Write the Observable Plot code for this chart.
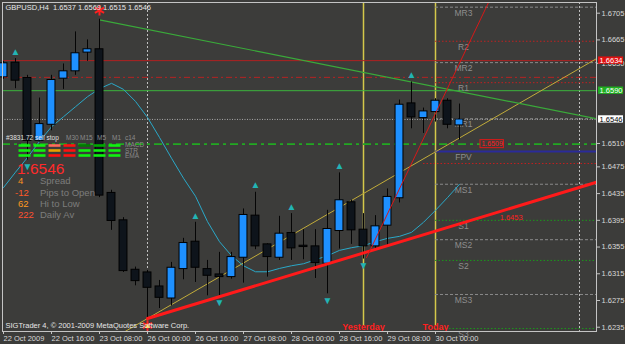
<!DOCTYPE html>
<html><head><meta charset="utf-8">
<script src="https://cdn.jsdelivr.net/npm/d3@7"></script>
<script src="https://cdn.jsdelivr.net/npm/@observablehq/plot@0.6"></script>
<style>
html,body{margin:0;padding:0;background:#3c3c3a;}
#wrap{position:relative;width:625px;height:344px;overflow:hidden;font-family:"Liberation Sans",Arial,sans-serif;}
.ov{position:absolute;white-space:nowrap;line-height:1;}
</style></head><body><div id="wrap"></div>
<script>
// ---- data ----
const timeLabels = ["22 Oct 2009","22 Oct 16:00","23 Oct 08:00","26 Oct 00:00","26 Oct 16:00","27 Oct 08:00","28 Oct 00:00","28 Oct 16:00","29 Oct 08:00","30 Oct 00:00"];
const timeTickIdx = [0,4,8,12,16,20,24,28,32,36];
const opens  = [1.6609,1.6631,1.6608,1.6514,1.6538,1.6607,1.6618,1.6646,1.6651,1.6436,1.6395,1.6321,1.6317,1.6296,1.6278,1.6322,1.6363,1.6322,1.6314,1.6310,1.6339,1.6402,1.6359,1.6339,1.6376,1.6357,1.6356,1.6330,1.6379,1.6422,1.6381,1.6356,1.6387,1.6428,1.6570,1.6548,1.6557,1.6574,1.6537];
const highs  = [1.6633,1.6637,1.6612,1.6578,1.6612,1.6629,1.6677,1.6665,1.6696,1.6440,1.6399,1.6325,1.6320,1.6305,1.6332,1.6368,1.6392,1.6335,1.6347,1.6347,1.6412,1.6437,1.6360,1.6401,1.6405,1.6381,1.6381,1.6410,1.6466,1.6425,1.6405,1.6402,1.6442,1.6575,1.6602,1.6563,1.6577,1.6577,1.6569];
const lows   = [1.6606,1.6592,1.6485,1.6512,1.6529,1.6591,1.6612,1.6633,1.6429,1.6380,1.6317,1.6297,1.6248,1.6263,1.6267,1.6306,1.6302,1.6282,1.6282,1.6307,1.6301,1.6351,1.6310,1.6335,1.6335,1.6336,1.6308,1.6285,1.6352,1.6359,1.6337,1.6350,1.6357,1.6421,1.6532,1.6525,1.6542,1.6532,1.6515];
const closes = [1.6630,1.6604,1.6514,1.6539,1.6605,1.6618,1.6645,1.6651,1.6432,1.6394,1.6319,1.6304,1.6294,1.6279,1.6324,1.6361,1.6324,1.6312,1.6310,1.6340,1.6403,1.6356,1.6340,1.6375,1.6353,1.6355,1.6331,1.6382,1.6425,1.6380,1.6356,1.6386,1.6430,1.6568,1.6549,1.6558,1.6574,1.6538,1.6546];
const maValues = [1.6444,1.6467,1.6489,1.6513,1.6535,1.6550,1.6565,1.6580,1.6592,1.6600,1.6591,1.6573,1.6549,1.6519,1.6488,1.6458,1.6431,1.6393,1.6363,1.6342,1.6327,1.6318,1.6318,1.6323,1.6327,1.6330,1.6336,1.6342,1.6350,1.6354,1.6357,1.6363,1.6368,1.6371,1.6377,1.6392,1.6410,1.6429,1.6449];
const fractalUp = [1,16,21,24,28,34];
const fractalDown = [2,18,27,30];
const yTicks = [1.6705,1.6665,1.6630,1.6510,1.6475,1.6435,1.6395,1.6355,1.6315,1.6275,1.6235];
const pivotNames  = ["MR3","R2","MR2","R1","MR1","FPV","MS1","S1","MS2","S2","MS3","S3"];
const pivotValues = [1.6714,1.6663,1.6631,1.6601,1.6547,1.6498,1.6449,1.6395,1.6366,1.6335,1.6284,1.6233];
const dayNames = ["Yesterday","Today"];
const dayIdx = [30,36];
const separatorIdx = [12,48];
const lineRedSolid = 1.6634, lineRedDashDot = 1.6609, lineGreenSolid = 1.6589, lineGreenDashDot = 1.6509, lineRedDotted = 1.6480;
const redDottedStart = 35;
const trendGreenX = [8, 49.42],  trendGreenY = [1.6695, 1.6547];
const trendRedX   = [12, 49.42], trendRedY   = [1.6248, 1.6452];
const trendYellowX= [10.17, 49.42], trendYellowY = [1.6229, 1.6637];
const trendRedThinX=[30.25, 40.42], trendRedThinY=[1.6339, 1.6721];
const boxLabels = ["1.6634","1.6590","1.6546"];
const boxValues = [1.6634, 1.6589, 1.6546];
const boxFills  = ["#e01010","#20b020","#ffffff"];
const boxText   = ["#ffffff","#ffffff","#000000"];
const title = "GBPUSD,H4  1.6537 1.6569 1.6515 1.6546";
const copyright = "SIGTrader 4, \u00a9 2001-2009 MetaQuotes Software Corp.";
const panelRows = ["MACD","STR","EMA"];
const panelColors = [
  ["#10f010","#10f010","#ff6a5a","#ff1010","#007a00","#00a800","#10f010"],
  ["#10f010","#10f010","#e8a000","#ff1010","#10f010","#10f010","#10f010"],
  ["#10f010","#10f010","#ff1010","#ff1010","#10f010","#10f010","#10f010"]
];
const panelHeader = ["M30","M15","M5","M1","c14"];
const infoValues = ["4","-12","62","222"];
const infoColors = ["#ff9020","#ff5a28","#ff9a20","#ff5030"];
const infoLabels = ["Spread","Pips to Open","Hi to Low","Daily Av"];
const bigPrice = "1.6546";

// ---- build ----
const X0 = -1/12, X1 = 49 + 5/12;
const bars = opens.map((o,i)=>({i, o, h: highs[i], l: lows[i], c: closes[i], ma: maValues[i]}));
const pivots = pivotNames.map((n,k)=>({n, p: pivotValues[k], kind: n==="FPV" ? "P" : (n[0]==="M" ? "M" : n[0])}));
const days = dayNames.map((n,k)=>({n, i: dayIdx[k]}));
const today = dayIdx[1];
const seg = (xs, ys) => xs.map((x,k)=>({x, y: ys[k]}));
const boxes = boxLabels.map((t,k)=>({t, p: boxValues[k], f: boxFills[k], tc: boxText[k]}));

const chart = Plot.plot({
  width: 625, height: 344,
  marginLeft: 2, marginRight: 29, marginTop: 2, marginBottom: 13,
  x: {domain: [X0, X1]},
  y: {domain: [1.62286, 1.6721]},
  style: {background: "transparent", fontFamily: "Liberation Sans, Arial, sans-serif", overflow: "visible"},
  marks: [
    Plot.ruleX(separatorIdx, {x: d=>d, stroke: "#c0c0c0", strokeDasharray: "2,2"}),
    Plot.ruleX(days, {x: "i", y1: 1.6721, y2: 1.6237, stroke: "#d4c84a", strokeWidth: 1.5}),
    // full-width levels
    Plot.ruleY([lineRedSolid], {stroke: "#b02020"}),
    Plot.ruleY([lineRedDashDot], {stroke: "#b82222", strokeDasharray: "6,3,2,3"}),
    Plot.ruleY([lineGreenSolid], {stroke: "#3cb43c"}),
    Plot.ruleY([closes[closes.length-1]], {stroke: "#a8a8a8", strokeDasharray: "1,1.5"}),
    Plot.ruleY([lineGreenDashDot], {stroke: "#22a822", strokeWidth: 1.6, strokeDasharray: "8,4,3,4"}),
    Plot.ruleY([lineRedDotted], {x1: redDottedStart, x2: X1, stroke: "#c02020", strokeDasharray: "1.5,2"}),
    // pivots
    Plot.ruleY(pivots.filter(d=>d.kind==="R"), {y: "p", x1: today, x2: X1, stroke: "#c02020", strokeDasharray: "1.5,2"}),
    Plot.ruleY(pivots.filter(d=>d.kind==="S"), {y: "p", x1: today, x2: X1, stroke: "#1a9a1a", strokeDasharray: "1.5,2"}),
    Plot.ruleY(pivots.filter(d=>d.kind==="M"), {y: "p", x1: today, x2: X1, stroke: "#8a8a8a", strokeDasharray: "3,2"}),
    Plot.ruleY(pivots.filter(d=>d.kind==="P"), {y: "p", x1: today, x2: X1, stroke: "#2a2a9a", strokeWidth: 2}),
    Plot.text(pivots, {x: ()=>today, y: "p", text: "n", dx: 28, dy: 6, fill: "#8e8e8e", fontSize: 8.5, lineAnchor: "middle"}),
    // trend lines and MA (behind candles)
    Plot.line(seg(trendYellowX, trendYellowY), {x: "x", y: "y", stroke: "#c2ac3a", strokeWidth: 1, clip: true}),
    Plot.line(seg(trendGreenX, trendGreenY), {x: "x", y: "y", stroke: "#3aaa3a", strokeWidth: 1.2, clip: true}),
    Plot.line(bars, {x: "i", y: "ma", stroke: "#2aa8c8", strokeWidth: 1}),
    // candles
    Plot.ruleX(bars, {x: "i", y1: "l", y2: "h", stroke: "#050505"}),
    Plot.rect(bars, {x1: d=>d.i-0.33, x2: d=>d.i+0.33, y1: "o", y2: d => Math.abs(d.c-d.o) < 0.00005 ? d.o + 0.00004 : d.c,
      fill: d => d.c >= d.o ? "#1e90ff" : "#0e141b", stroke: "#000", strokeWidth: 1}),
    // trend lines on top
    Plot.line(seg(trendRedX, trendRedY), {x: "x", y: "y", stroke: "#ff1a1a", strokeWidth: 3, clip: true}),
    Plot.line(seg(trendRedThinX, trendRedThinY), {x: "x", y: "y", stroke: "#d81818", strokeWidth: 1, clip: true}),
    // fractals
    Plot.text(fractalUp.map(i=>bars[i]), {x: "i", y: "h", text: ()=>"\u25B2", dy: -7, fill: "#22b4b4", fontSize: 10}),
    Plot.text(fractalDown.map(i=>bars[i]), {x: "i", y: "l", text: ()=>"\u25BC", dy: 7, fill: "#22b4b4", fontSize: 10}),
    Plot.dot([bars[8]], {x: "i", y: "h", dy: -9, symbol: "asterisk", r: 5, stroke: "#ff2020", strokeWidth: 2}),
    Plot.dot([bars[12]], {x: "i", y: "l", dy: 7, symbol: "asterisk", r: 5, stroke: "#ff2020", strokeWidth: 2}),
    Plot.text([bars[12]], {x: "i", y: "l", dy: 7, text: ()=>"\u25B2", fill: "#f0d020", fontSize: 8}),
    // labels on lines
    Plot.rect([lineGreenDashDot], {x1: ()=>39.75, x2: ()=>41.7, y1: d=>d-0.0006, y2: d=>d+0.0006, fill: "#3c3c3a", stroke: "#e01818"}),
    Plot.text([lineGreenDashDot], {x: ()=>40.72, y: d=>d, text: d=>d.toFixed(4), fill: "#ff2020", fontSize: 7}),
    Plot.text([trendRedY], {x: ()=>42.3, y: ()=>1.6399, text: ()=>"1.6453", fill: "#ff2020", fontSize: 7.5}),
    Plot.text(days, {x: "i", frameAnchor: "bottom", text: "n", dy: -4.5, fill: "#ff2020", fontSize: 9, fontWeight: "bold", lineAnchor: "middle"}),
    // header & copyright
    Plot.text([title], {frameAnchor: "top-left", text: d=>d, dx: 3, dy: 5, lineAnchor: "middle", fill: "#e6e6e6", fontSize: 7.5}),
    Plot.text([copyright], {frameAnchor: "bottom-left", text: d=>d, dx: 3, dy: -6, lineAnchor: "middle", fill: "#e6e6e6", fontSize: 7.5}),
    // axes
    Plot.frame({stroke: "#c4c4c4"}),
    Plot.axisX({ticks: timeTickIdx, tickFormat: d => timeLabels[timeTickIdx.indexOf(d)], textAnchor: "start", tickSize: 3, tickPadding: 1, fontSize: 7.5, color: "#d8d8d8", stroke: "#c4c4c4"}),
    Plot.axisY({anchor: "right", ticks: yTicks, tickFormat: d => d.toFixed(4), tickSize: 3, tickPadding: 2, fontSize: 7.5, color: "#d8d8d8", stroke: "#c4c4c4"}),
    Plot.rect(boxes, {x1: ()=>X1+0.17, x2: ()=>X1+2.25, y1: d=>d.p-0.00055, y2: d=>d.p+0.00055, fill: "f"}),
    Plot.text(boxes, {x: ()=>X1+1.21, y: "p", text: "t", fill: "tc", fontSize: 7.5})
  ]
});
const wrap = document.getElementById("wrap");
wrap.appendChild(chart);

// ---- indicator panel overlay ----
function ov(text, left, cy, size, color, extra) {
  const d = document.createElement("div");
  d.className = "ov"; d.textContent = text;
  d.style.left = left + "px"; d.style.top = (cy - size/2) + "px";
  d.style.fontSize = size + "px"; d.style.color = color;
  if (extra) Object.assign(d.style, extra);
  wrap.appendChild(d);
}
const cells = [];
panelColors.forEach((row, r) => row.forEach((c, k) => cells.push({r, k, c})));
const panel = Plot.plot({
  width: 105, height: 17.4, margin: 0,
  x: {type: "band", domain: d3.range(7), axis: null, padding: 0},
  y: {type: "band", domain: d3.range(3), axis: null, padding: 0},
  style: {background: "transparent"},
  marks: [Plot.cell(cells, {x: "k", y: "r", fill: "c", insetLeft: 1.5, insetRight: 1.5, insetTop: 1.2, insetBottom: 1.2})]
});
panel.style.position = "absolute"; panel.style.left = "17px"; panel.style.top = "142px";
wrap.appendChild(panel);
ov("#3831.72 sell stop", 6, 138.5, 6.5, "#e0e0e0");
panelHeader.forEach((t, k) => ov(t, [66, 80, 97, 112, 125][k], 138.5, 6.5, "#8a8a8a"));
panelRows.forEach((t, r) => ov(t, 125, 145 + r*5.8, 6.5, "#8a8a8a"));
ov(bigPrice, 17, 169, 15.5, "#ff2a2a");
infoValues.forEach((t, k) => {
  ov(t, k===1 ? 15 : 18, 181 + k*11.3, 9.5, infoColors[k]);
  ov(infoLabels[k], 40, 181 + k*11.3, 9.5, "#7c7c7c");
});
</script></body></html>
